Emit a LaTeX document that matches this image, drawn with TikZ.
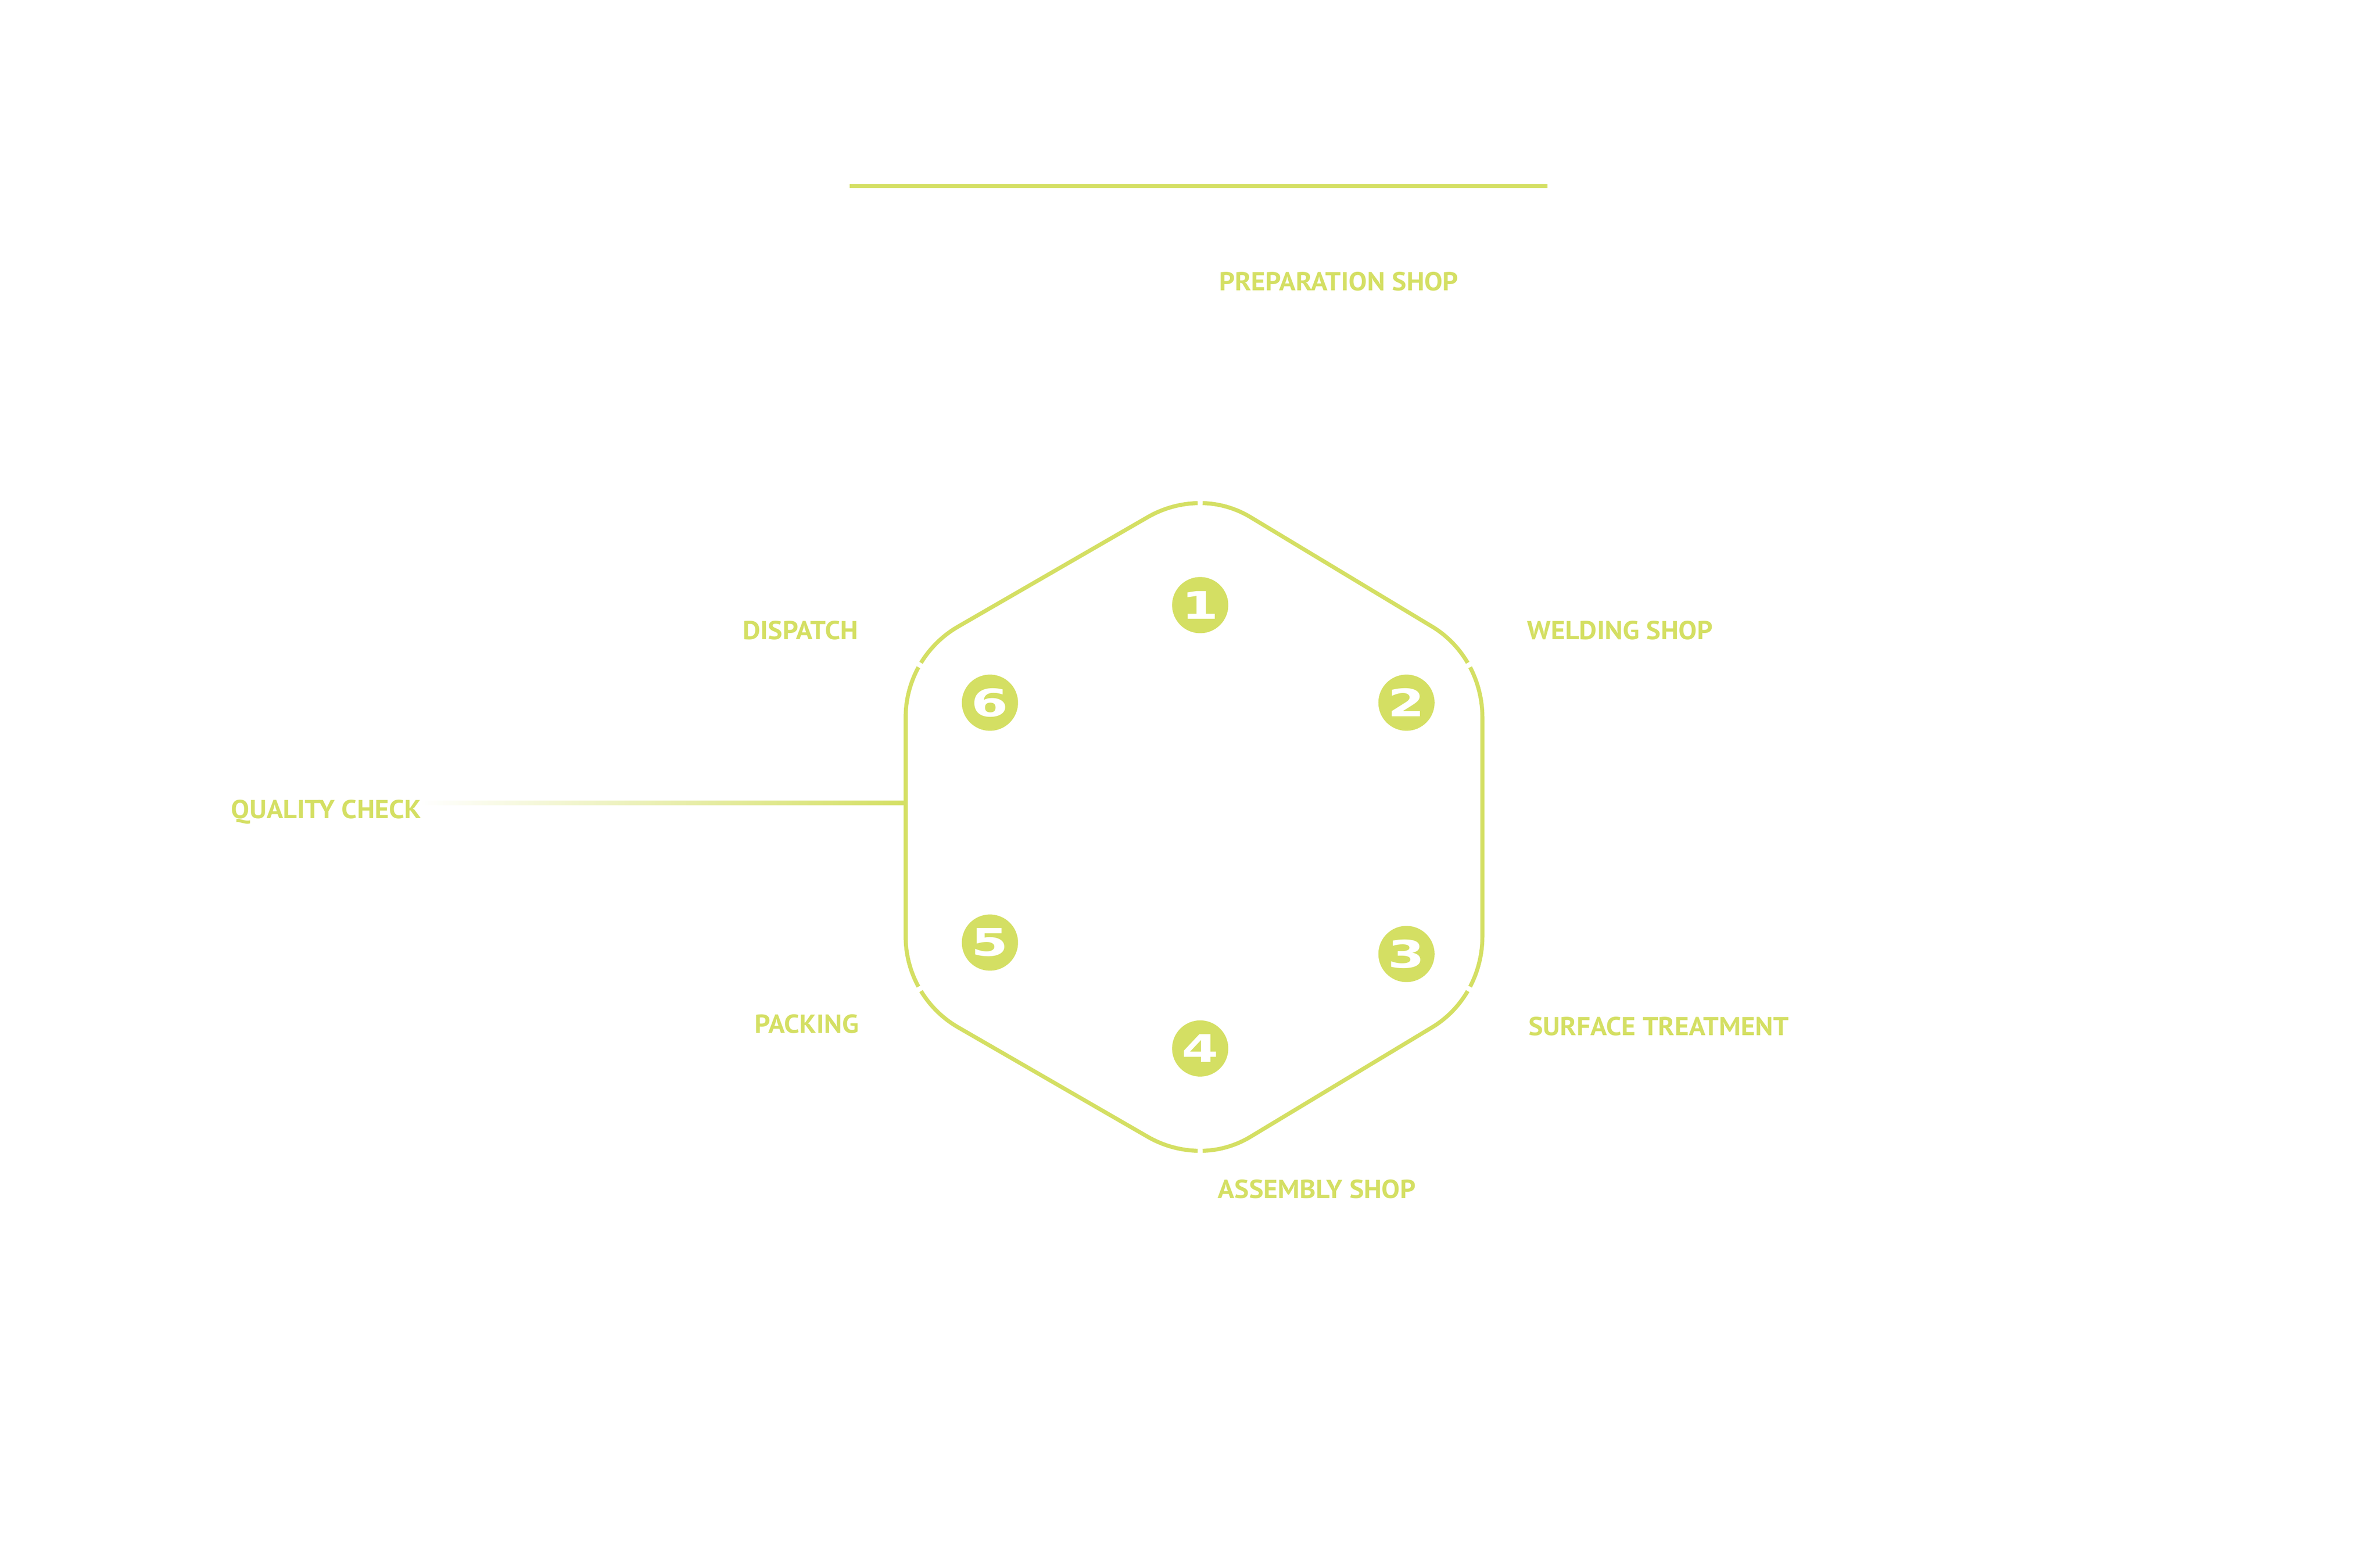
\documentclass[tikz,border=0pt]{standalone}
\usepackage{fontspec}
\usepackage{graphicx}
\setmainfont{PT Sans}[FakeStretch=1.05]
\newfontfamily\digitfont{DejaVu Sans}
\usetikzlibrary{calc}

\definecolor{shopgreen}{HTML}{D4DF63}
\newcommand{\widenum}[1]{\scalebox{1.4}[1]{#1}}

\tikzset{
  hexline/.style={draw=shopgreen, line width=0.13cm},
  stepnum/.style={circle, fill=shopgreen, minimum size=1.82cm, inner sep=0pt,
    text=white, font=\digitfont\bfseries\fontsize{35}{35}\selectfont},
  shoplabel/.style={text=shopgreen, inner sep=0pt, text height=0.59cm, text depth=0pt,
    font=\bfseries\fontsize{24}{24}\selectfont},
}

\begin{document}
\begin{tikzpicture}
  \useasboundingbox (0,0) rectangle (77.08,50);

  % top rule
  \draw[hexline] (27.52,43.97) -- (50.12,43.97);

  % hexagon, one piece per side, cut at the corners (right half a bit narrower)
  \coordinate (hexc) at (38.87,23.215);
  \foreach \k in {0,...,5}{
    \pgfmathsetmacro{\a}{90+60*\k}
    \pgfmathsetmacro{\sx}{\k>2 ? 0.958 : 1}
    \begin{scope}[shift={(hexc)}, xscale=\sx]
      \draw[hexline] ($({\a}:7.09)+({\a+1.4}:3.4)$)
        arc[start angle=\a+1.4, end angle=\a+30, radius=3.4]
        -- ($({\a+60}:7.09)+({\a+30}:3.4)$)
        arc[start angle=\a+30, end angle=\a+58.6, radius=3.4];
    \end{scope}
  }

  % steps
  \node[stepnum] (n1) at (38.87,30.40) {\widenum{1}};
  \node[stepnum] (n2) at (45.55,27.24) {\widenum{2}};
  \node[stepnum] (n3) at (45.55,19.10) {\widenum{3}};
  \node[stepnum] (n4) at (38.87,16.04) {\widenum{4}};
  \node[stepnum] (n5) at (32.06,19.47) {\widenum{5}};
  \node[stepnum] (n6) at (32.06,27.24) {\widenum{6}};

  % labels
  \node[shoplabel, anchor=west] (prep) at (39.48,40.89) {PREPARATION SHOP};
  \node[shoplabel, anchor=west] (weld) at (49.46,29.59) {WELDING SHOP};
  \node[shoplabel, anchor=west] (surf) at (49.50,16.75) {SURFACE TREATMENT};
  \node[shoplabel, anchor=west] (assy) at (39.44,11.49) {ASSEMBLY SHOP};
  \node[shoplabel, anchor=east] (disp) at (27.80,29.59) {DISPATCH};
  \node[shoplabel, anchor=east] (pack) at (27.82,16.83) {PACKING};
  \node[shoplabel, anchor=west] (qc) at (7.48,23.78) {QUALITY CHECK};

  % quality check lead
  \coordinate (qcstart) at (13.60,23.99);
  \coordinate (qcend) at (29.33,23.99);
  \shade[left color=white, right color=shopgreen]
    ($(qcstart)+(0,-0.065)$) rectangle ($(qcend)+(0,0.065)$);
\end{tikzpicture}
\end{document}
